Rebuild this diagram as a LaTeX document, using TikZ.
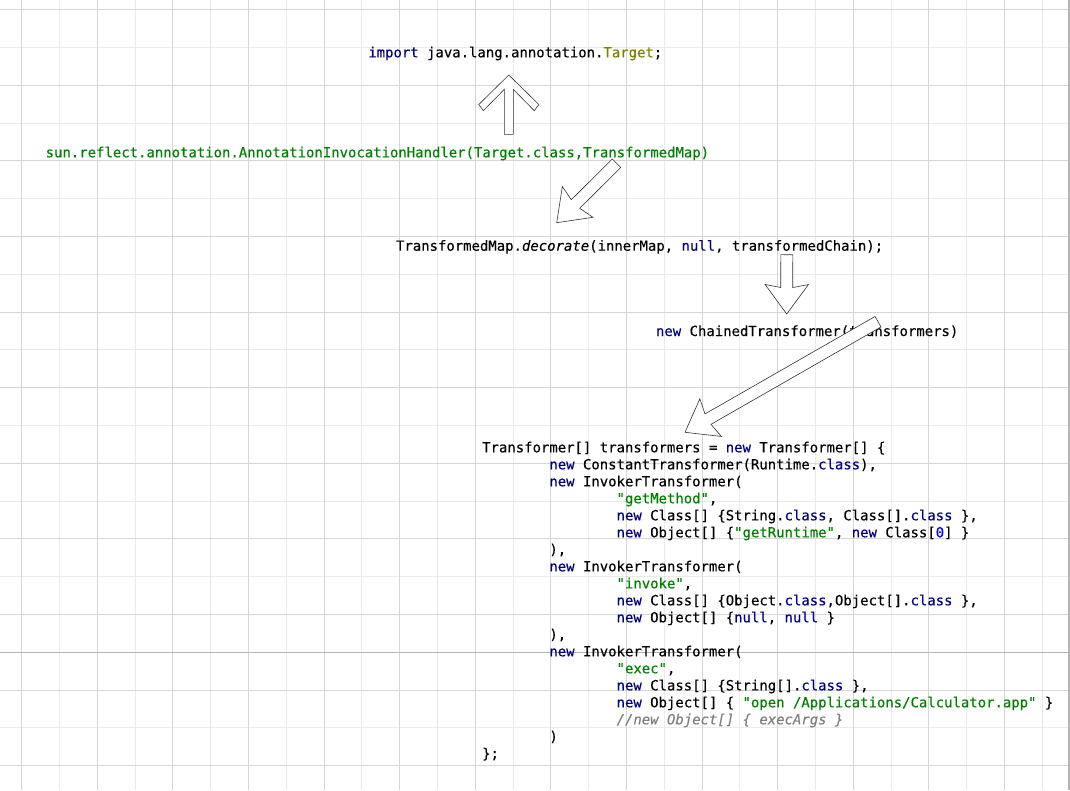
\documentclass[tikz,border=0pt]{standalone}
\usepackage{fontspec}
\setmonofont{DejaVu Sans Mono}[FakeBold=0.25]
\usetikzlibrary{calc}
\definecolor{gridDark}{HTML}{D6D6D6}
\definecolor{gridLight}{HTML}{EAEAEA}
\definecolor{pageGray}{HTML}{B4B4B4}
\definecolor{kwNavy}{HTML}{000080}
\definecolor{strGreen}{HTML}{008000}
\definecolor{typeOlive}{HTML}{808000}
\definecolor{numBlue}{HTML}{0000FF}
\definecolor{cmtGray}{HTML}{808080}

% Java syntax colours
\newcommand\jkw[1]{\textcolor{kwNavy}{#1}}
\newcommand\jstr[1]{\textcolor{strGreen}{#1}}
\newcommand\jnum[1]{\textcolor{numBlue}{#1}}
\newcommand\jcmt[1]{\textcolor{cmtGray}{\itshape #1}}

% Outlined block arrow: tail, tip, outer back/half, inner back/half, junction back, shaft half
\newcommand\blockarrow[8]{%
    \filldraw[blockarrow] (#2)
        -- ($(#2)!#3pt!(#1)!#4pt!90:(#1)$)
        -- ($(#2)!#5pt!(#1)!#6pt!90:(#1)$)
        -- ($(#2)!#7pt!(#1)!#8pt!90:(#1)$)
        -- ($(#1)!#8pt!-90:(#2)$)
        -- ($(#1)!#8pt!90:(#2)$)
        -- ($(#2)!#7pt!(#1)!#8pt!-90:(#1)$)
        -- ($(#2)!#5pt!(#1)!#6pt!-90:(#1)$)
        -- ($(#2)!#3pt!(#1)!#4pt!-90:(#1)$)
        -- cycle;}

\begin{document}
\begin{tikzpicture}[x=1pt, y=-1pt]

    \tikzstyle{code}=[anchor=base west, inner sep=0pt, outer sep=0pt, font=\ttfamily\fontsize{13.95}{17}\selectfont]
    \tikzstyle{blockarrow}=[draw=black!80, fill=white, line width=0.6pt, line join=miter]

    \useasboundingbox (0,0) rectangle (1070,790);

    % --- 1. Grid paper (lines snapped to whole pixels) ---
    \fill[white] (0,0) rectangle (1070,790);
    \foreach \k in {1,3,...,27}
        \draw[gridLight, line width=1.4pt] ({int(21.7+37.8*\k)+0.5},0) -- ({int(21.7+37.8*\k)+0.5},790);
    \foreach \k in {1,3,...,19}
        \draw[gridLight, line width=1.4pt] (0,{int(9.6+37.8*\k)+0.5}) -- (1070,{int(9.6+37.8*\k)+0.5});
    \foreach \k in {0,2,...,26}
        \draw[gridDark, line width=1.4pt] ({int(21.7+37.8*\k)+0.5},0) -- ({int(21.7+37.8*\k)+0.5},790);
    \foreach \k in {0,2,...,20}
        \draw[gridDark, line width=1.4pt] (0,{int(9.6+37.8*\k)+0.5}) -- (1070,{int(9.6+37.8*\k)+0.5});

    % page edges
    \draw[pageGray, line width=1.4pt] (0,652.5) -- (1070,652.5);
    \draw[pageGray, line width=2pt] (1069,0) -- (1069,790);


    % --- 2. Call chain ---
    \node[code] (imp) at (368.3,57.3) {\jkw{import} java.lang.annotation.\textcolor{typeOlive}{Target};};
    \node[code, text=strGreen] (handler) at (45.7,157.3) {sun.reflect.annotation.AnnotationInvocationHandler(Target.class,TransformedMap)};
    \node[code] (decor) at (396,250.7) {TransformedMap.\textit{decorate}(innerMap, \jkw{null}, transformedChain);};
    \node[code] (chained) at (656,336) {\jkw{new} ChainedTransformer(transformers)};


    % --- 3. Transformer array ---
    \node[code] (line0)  at (482.2,452.3) {Transformer[] transformers = \jkw{new} Transformer[] \{};
    \node[code] (line1)  at (549.4,469.3) {\jkw{new} ConstantTransformer(Runtime.\jkw{class}),};
    \node[code] (line2)  at (549.4,486.3) {\jkw{new} InvokerTransformer(};
    \node[code] (line3)  at (616.6,503.3) {\jstr{"getMethod"},};
    \node[code] (line4)  at (616.6,520.3) {\jkw{new} Class[] \{String.\jkw{class}, Class[].\jkw{class} \},};
    \node[code] (line5)  at (616.6,537.3) {\jkw{new} Object[] \{\jstr{"getRuntime"}, \jkw{new} Class[\jnum{0}] \}};
    \node[code] (line6)  at (549.4,554.3) {),};
    \node[code] (line7)  at (549.4,571.3) {\jkw{new} InvokerTransformer(};
    \node[code] (line8)  at (616.6,588.3) {\jstr{"invoke"},};
    \node[code] (line9)  at (616.6,605.3) {\jkw{new} Class[] \{Object.\jkw{class},Object[].\jkw{class} \},};
    \node[code] (line10) at (616.6,622.3) {\jkw{new} Object[] \{\jkw{null}, \jkw{null} \}};
    \node[code] (line11) at (549.4,639.3) {),};
    \node[code] (line12) at (549.4,656.3) {\jkw{new} InvokerTransformer(};
    \node[code] (line13) at (616.6,673.3) {\jstr{"exec"},};
    \node[code] (line14) at (616.6,690.3) {\jkw{new} Class[] \{String[].\jkw{class} \},};
    \node[code] (line15) at (616.6,707.3) {\jkw{new} Object[] \{ \jstr{"open /Applications/Calculator.app"} \}};
    \node[code] (line16) at (616.6,724.3) {\jcmt{//new Object[] \{ execArgs \}}};
    \node[code] (line17) at (549.4,741.3) {)};
    \node[code] (line18) at (482.2,758.3) {\};};


    % --- 4. Block arrows ---
    \coordinate (handlerUp)  at (508.8,134.3);
    \coordinate (importIn)   at (508.8,75);
    \coordinate (handlerOut) at (616.5,163.3);
    \coordinate (decorIn)    at (556.7,222.7);
    \coordinate (decorOut)   at (786.8,254.7);
    \coordinate (chainIn)    at (786.7,314);
    \coordinate (chainOut)   at (878,321.7);
    \coordinate (codeIn)     at (685,432.3);

    % open chevron head
    \blockarrow{handlerUp}{importIn}{29.5}{30}{35.7}{25.5}{14.3}{4.5}

    % solid triangle heads
    \foreach \tail/\tip in {handlerOut/decorIn, decorOut/chainIn, chainOut/codeIn} {
        \blockarrow{\tail}{\tip}{29.5}{21.7}{26.5}{6}{26.5}{6}
    }

\end{tikzpicture}
\end{document}
